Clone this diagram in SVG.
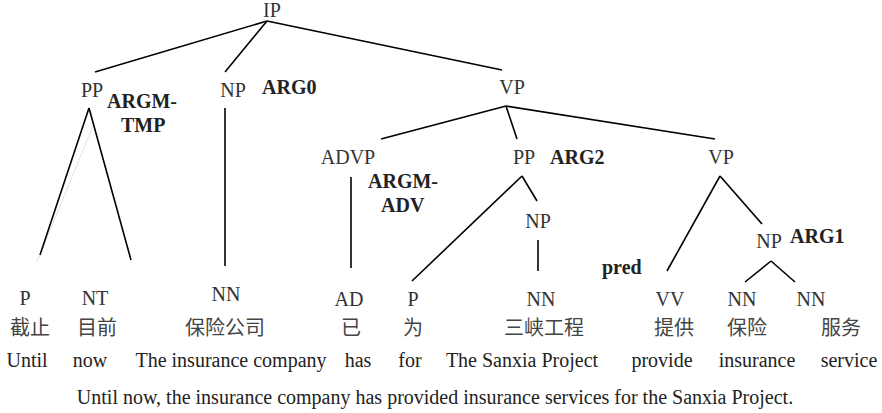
<svg xmlns="http://www.w3.org/2000/svg" width="882" height="413" viewBox="0 0 882 413">
<style>
text{font-family:"Liberation Serif","Noto Sans CJK SC",serif;font-size:20px;fill:#333;text-anchor:middle}
.b{font-weight:bold;fill:#222;text-anchor:start}
.zh{font-family:"Liberation Serif","Noto Sans CJK SC",serif;font-size:20px;fill:#444}
.e{fill:#222}
#connectors line{stroke:#000;stroke-width:1.6;fill:none}
#connectors line.faint{stroke:#e2e2e2;stroke-width:1}
</style>
<rect width="882" height="413" fill="#fff"/>
<g id="connectors">
<line x1="267" y1="21" x2="95" y2="72"/>
<line x1="267" y1="21" x2="225" y2="72"/>
<line x1="267" y1="21" x2="502" y2="70"/>
<line class="faint" x1="93" y1="126" x2="37" y2="262"/>
<line x1="89" y1="108" x2="40" y2="255"/>
<line x1="89" y1="108" x2="131" y2="260"/>
<line x1="225" y1="108" x2="225" y2="266"/>
<line x1="506" y1="106" x2="381" y2="139"/>
<line x1="506" y1="106" x2="517" y2="139"/>
<line x1="506" y1="106" x2="715" y2="139"/>
<line x1="351" y1="177" x2="351" y2="268"/>
<line x1="522" y1="176" x2="412" y2="281"/>
<line x1="522" y1="176" x2="537" y2="201"/>
<line x1="538" y1="240" x2="538" y2="271"/>
<line x1="720" y1="176" x2="667" y2="271"/>
<line x1="720" y1="176" x2="762" y2="224"/>
<line x1="771" y1="261" x2="745" y2="282"/>
<line x1="771" y1="261" x2="795" y2="282"/>
</g>
<g id="IP"><text x="272" y="17">IP</text></g>
<g id="PP1"><text x="92" y="97">PP</text><text class="b" x="107" y="108">ARGM-</text><text class="b" x="121" y="132">TMP</text></g>
<g id="NP1"><text x="233" y="97">NP</text><text class="b" x="262" y="94">ARG0</text></g>
<g id="VP1"><text x="512" y="94">VP</text></g>
<g id="ADVP"><text x="348" y="164">ADVP</text><text class="b" x="368" y="188">ARGM-</text><text class="b" x="381" y="212">ADV</text></g>
<g id="PP2"><text x="524" y="164">PP</text><text class="b" x="550" y="164">ARG2</text></g>
<g id="VP2"><text x="721" y="164">VP</text></g>
<g id="NP2"><text x="538" y="228">NP</text></g>
<g id="NP3"><text x="769" y="248">NP</text><text class="b" x="790" y="243">ARG1</text></g>
<g id="pred"><text class="b" x="602" y="274">pred</text></g>
<g id="w1"><text x="25" y="305">P</text><text class="zh" x="30" y="335">截止</text><text class="e" x="27" y="367">Until</text></g>
<g id="w2"><text x="95" y="305">NT</text><text class="zh" x="97" y="335">目前</text><text class="e" x="90" y="367">now</text></g>
<g id="w3"><text x="226" y="301">NN</text><text class="zh" x="225" y="335">保险公司</text><text class="e" x="231" y="367">The insurance company</text></g>
<g id="w4"><text x="349" y="306">AD</text><text class="zh" x="351" y="335">已</text><text class="e" x="358" y="367">has</text></g>
<g id="w5"><text x="413" y="306">P</text><text class="zh" x="413" y="335">为</text><text class="e" x="410" y="367">for</text></g>
<g id="w6"><text x="541" y="306">NN</text><text class="zh" x="544" y="335">三峡工程</text><text class="e" x="522" y="367">The Sanxia Project</text></g>
<g id="w7"><text x="670" y="306">VV</text><text class="zh" x="674" y="335">提供</text><text class="e" x="662" y="367">provide</text></g>
<g id="w8"><text x="742" y="306">NN</text><text class="zh" x="747" y="335">保险</text><text class="e" x="757" y="367">insurance</text></g>
<g id="w9"><text x="811" y="306">NN</text><text class="zh" x="841" y="335">服务</text><text class="e" x="849" y="367">service</text></g>
<g id="sentence"><text class="e" x="435" y="404" font-size="19.25">Until now, the insurance company has provided insurance services for the Sanxia Project.</text></g>
</svg>
